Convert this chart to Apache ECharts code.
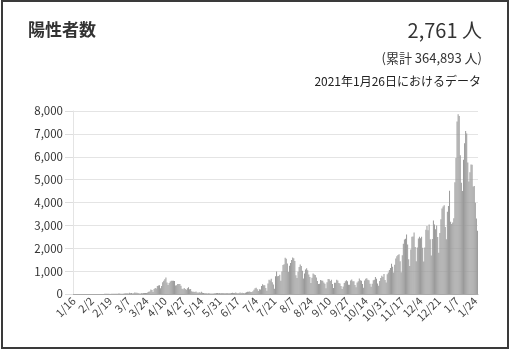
<!DOCTYPE html>
<html>
<head>
<meta charset="utf-8">
<script src="https://cdn.jsdelivr.net/npm/echarts@6/dist/echarts.min.js"></script>
<style>
  html, body { margin: 0; padding: 0; background: #fff; }
  .frame {
    position: absolute; left: 1px; top: 0; width: 508px; height: 349px;
    box-sizing: border-box; border: 2px solid #3a3a3a;
  }
  #chart { position: absolute; left: 0; top: 0; width: 511px; height: 351px; }
</style>
</head>
<body>
<div id="chart"></div>
<div class="frame"></div>
<script>
// daily positives, 2020/1/16 - 2021/1/26
const jan20 = [1,0,0,0,0,0,0,0,1,1,1,0,3,1,4,2];
const feb20 = [1,0,0,0,0,0,0,1,0,0,0,1,3,8,11,6,7,6,5,10,9,9,10,14,13,16,21,17,14];
const mar20 = [14,13,18,32,31,36,27,59,33,47,22,35,62,54,51,39,30,16,44,33,39,46,43,39,71,93,112,201,173,87,220];
const apr20 = [266,235,351,368,383,252,351,515,576,644,720,507,388,482,544,583,576,584,568,373,378,438,436,440,359,231,205,264,222,188];
const may20 = [252,294,204,218,123,100,95,90,108,66,56,77,56,98,51,43,30,31,28,24,42,26,20,22,21,37,30,40,45,38,40];
const jun20 = [35,40,40,45,38,45,40,38,38,37,41,60,41,47,70,44,38,45,69,39,57,49,38,58,73,97,101,110,89,86];
const jul20 = [122,186,248,271,212,132,207,193,355,430,383,382,264,143,461,622,593,664,509,414,233,778,981,777,787,841,579,979,1264,1300,1580];
const aug20 = [1536,1331,958,1236,1354,1485,1595,1568,1442,815,700,970,1178,1290,1228,1018,675,897,1071,1130,1034,850,741,485,710,894,853,830,717,563,437];
const sep20 = [444,609,590,577,506,445,251,509,658,650,566,620,437,267,494,493,625,588,486,458,351,216,330,480,555,606,556,399,406,592];
const oct20 = [636,558,554,389,294,500,557,673,596,575,441,270,592,665,685,622,602,449,315,453,603,618,739,663,460,365,568,702,799,747,870];
const nov20 = [610,506,859,942,1046,1139,1318,1186,945,1279,1547,1650,1701,1736,1434,951,1698,2201,2386,2418,2596,2168,1520,1228,1944,2504,2510,2684,2060,1430];
const dec20 = [2030,2430,2508,2436,2508,2021,1425,2028,2810,2973,2788,3041,2391,1680,2409,3212,3033,2834,2995,2497,1805,2668,3270,3740,3827,3877,2926,2396,3595,3846,4515];
const jan21 = [3158,3065,3129,3310,4888,5946,7539,7853,7780,6065,4862,4505,5872,6594,7129,7014,5753,4922,5320,5659,5650,4698,4717,3989,3300,2761];

const values = [].concat(jan20, feb20, mar20, apr20, may20, jun20, jul20, aug20, sep20, oct20, nov20, dec20, jan21);
const yTicks = [0, 1000, 2000, 3000, 4000, 5000, 6000, 7000, 8000];

const dates = [];
let d = new Date(2020, 0, 16);
for (let i = 0; i < values.length; i++) {
  dates.push((d.getMonth() + 1) + "/" + d.getDate());
  d.setDate(d.getDate() + 1);
}

const chart = echarts.init(document.getElementById("chart"));
const font = "'Noto Sans CJK JP', 'Noto Sans', sans-serif";
chart.setOption({
  animation: false,
  textStyle: { fontFamily: font },
  graphic: [
    { type: "text", left: 28, top: 21, style: { text: "陽性者数", font: "bold 17px " + font, fill: "#333" } },
    { type: "text", right: 29, top: 20, style: { text: "2,761 人", font: "20px " + font, fill: "#333" } },
    { type: "text", right: 29, top: 52, style: { text: "(累計 364,893 人)", font: "13px " + font, fill: "#333" } },
    { type: "text", right: 30, top: 75, style: { text: "2021年1月26日におけるデータ", font: "12px " + font, fill: "#222" } },
  ],
  grid: { left: 73, right: 33, top: 111, bottom: 57 },
  xAxis: {
    type: "category",
    data: dates,
    axisLine: { lineStyle: { color: "#aaa" } },
    axisTick: { show: false },
    axisLabel: { interval: 16, rotate: 45, fontSize: 11, color: "#444", margin: 5 },
  },
  yAxis: {
    type: "value",
    min: yTicks[0],
    max: yTicks[yTicks.length - 1],
    interval: 1000,
    axisLine: { show: true, lineStyle: { color: "#e4e4e4" } },
    axisTick: { show: true, length: 8, lineStyle: { color: "#ddd" } },
    axisLabel: {
      fontSize: 11.5, color: "#333", margin: 10,
      formatter: (v) => v.toLocaleString("en-US"),
    },
    splitLine: { lineStyle: { color: "#e4e4e4" } },
  },
  series: [
    {
      type: "bar",
      data: values,
      barCategoryGap: "10%",
      itemStyle: { color: "#9a9a9a" },
    },
  ],
});
</script>
</body>
</html>
